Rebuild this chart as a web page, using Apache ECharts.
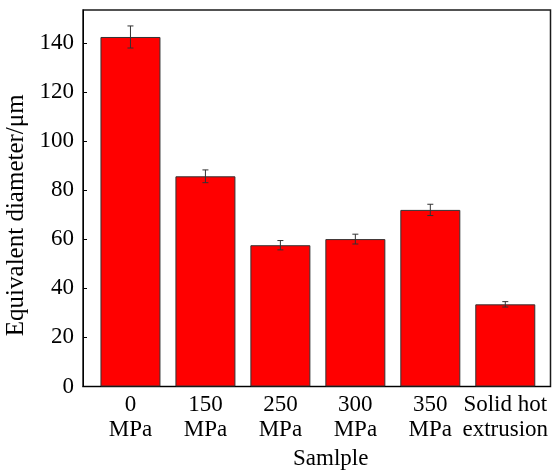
<!DOCTYPE html>
<html>
<head>
<meta charset="utf-8">
<script src="https://cdn.jsdelivr.net/npm/echarts@6/dist/echarts.min.js"></script>
<style>html,body{margin:0;padding:0;background:#fff;}#c{width:560px;height:470px;}</style>
</head>
<body>
<div id="c"></div>
<script>
var categories = ['0\nMPa', '150\nMPa', '250\nMPa', '300\nMPa', '350\nMPa', 'Solid hot\nextrusion'];
var values = [142.5, 85.7, 57.6, 60.1, 72.0, 33.5];
var errors = [4.5, 2.6, 1.9, 2.0, 2.3, 1.1];
var yTicks = [0, 20, 40, 60, 80, 100, 120, 140];
var xTitle = 'Samlple';
var yTitle = 'Equivalent diameter/\u03bcm';

var font = 'Liberation Serif, Times New Roman, serif';
var barData = values.map(function (v, i) { return [i, v]; });
var errData = values.map(function (v, i) { return [i, v - errors[i], v + errors[i]]; });

var chart = echarts.init(document.getElementById('c'));
chart.setOption({
  animation: false,
  grid: { left: 83, right: 9.5, top: 10, bottom: 83.5, show: true, borderColor: '#1a1a1a', borderWidth: 1.5, backgroundColor: 'transparent', containLabel: false, outerBoundsMode: 'none' },
  xAxis: {
    type: 'value', min: -0.633, max: 5.603,
    splitLine: { show: false },
    axisLine: { show: true, onZero: false, lineStyle: { color: '#000', width: 1 } },
    axisTick: { show: false },
    axisLabel: {
      customValues: [0, 1, 2, 3, 4, 5],
      formatter: function (v) { return categories[Math.round(v)]; },
      color: '#000', fontFamily: font, fontSize: 23, lineHeight: 25, margin: 6
    },
    name: xTitle, nameLocation: 'middle', nameGap: 58,
    nameTextStyle: { color: '#000', fontFamily: font, fontSize: 23, padding: [0, 0, 0, 28] }
  },
  yAxis: {
    type: 'value', min: 0, max: 153.5,
    splitLine: { show: false },
    axisLine: { show: true, onZero: false, lineStyle: { color: '#000', width: 1 } },
    axisTick: { show: true, inside: true, length: 4, customValues: yTicks, lineStyle: { color: '#000' } },
    axisLabel: { customValues: yTicks, color: '#000', fontFamily: font, fontSize: 23, margin: 9 },
    name: yTitle, nameLocation: 'middle', nameGap: 43, nameRotate: 90,
    nameTextStyle: { color: '#000', fontFamily: font, fontSize: 25, padding: [0, 34, 0, 0] }
  },
  series: [
    {
      type: 'bar', data: barData, barWidth: 60,
      itemStyle: { color: '#ff0000', borderColor: '#333', borderWidth: 1 }
    },
    {
      type: 'custom', data: errData, z: 10,
      encode: { x: 0, y: [1, 2] },
      renderItem: function (params, api) {
        var x = api.value(0);
        var lo = api.coord([x, api.value(1)]);
        var hi = api.coord([x, api.value(2)]);
        var w = 3;
        var st = { stroke: '#333', lineWidth: 1, fill: null };
        return {
          type: 'group',
          children: [
            { type: 'line', shape: { x1: lo[0], y1: lo[1], x2: hi[0], y2: hi[1] }, style: st },
            { type: 'line', shape: { x1: hi[0] - w, y1: hi[1], x2: hi[0] + w, y2: hi[1] }, style: st },
            { type: 'line', shape: { x1: lo[0] - w, y1: lo[1], x2: lo[0] + w, y2: lo[1] }, style: st }
          ]
        };
      }
    }
  ]
});
</script>
</body>
</html>
